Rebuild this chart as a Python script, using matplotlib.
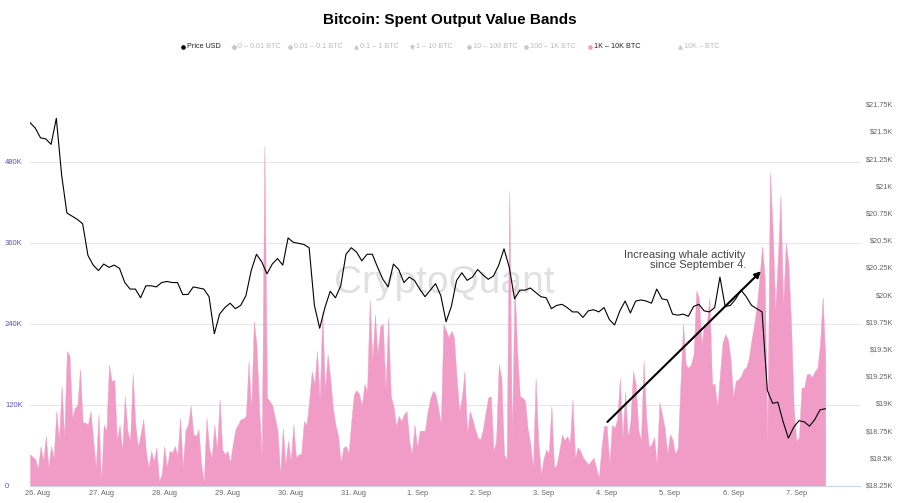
import numpy as np
import pandas as pd
import matplotlib
matplotlib.use("Agg")
import matplotlib.pyplot as plt
import matplotlib.dates as mdates
from matplotlib import transforms
from matplotlib.lines import Line2D

plt.rcParams['font.family'] = ['Liberation Sans', 'DejaVu Sans']

# hourly spent output value, 1K - 10K BTC band (thousands), 25 Aug 21:00 -> 7 Sep 11:00
spent_times = pd.date_range('2022-08-25 21:00', periods=303, freq='h')
spent_k = [
    47, 43, 40, 25, 59, 37, 74, 27, 59, 42, 111, 67, 148, 72, 200, 193,
    101, 116, 119, 173, 94, 94, 91, 111, 67, 27, 106, 5, 91, 82, 180, 155,
    158, 67, 91, 52, 133, 82, 67, 166, 91, 57, 77, 99, 52, 27, 52, 37,
    57, 7, 17, 59, 27, 52, 50, 59, 45, 101, 27, 82, 91, 119, 77, 74,
    84, 32, 5, 101, 57, 42, 91, 52, 128, 54, 47, 52, 35, 62, 84, 91,
    99, 100, 104, 185, 111, 244, 210, 116, 42, 504, 131, 126, 119, 101, 82, 17,
    86, 32, 67, 37, 91, 42, 47, 47, 96, 91, 126, 170, 151, 200, 126, 259,
    140, 195, 160, 116, 91, 74, 35, 57, 59, 49, 96, 136, 142, 136, 119, 151,
    141, 275, 185, 254, 195, 237, 240, 141, 249, 133, 119, 89, 104, 96, 106, 111,
    67, 47, 91, 57, 82, 82, 82, 111, 130, 141, 136, 116, 91, 240, 230, 220,
    230, 220, 160, 111, 131, 170, 77, 111, 99, 84, 72, 69, 84, 109, 131, 133,
    52, 67, 180, 160, 47, 40, 437, 67, 299, 200, 133, 131, 126, 84, 62, 25,
    160, 67, 17, 40, 54, 49, 118, 27, 32, 52, 76, 68, 74, 64, 128, 42,
    57, 52, 42, 37, 32, 37, 42, 27, 12, 57, 89, 89, 32, 91, 86, 99,
    160, 70, 140, 72, 96, 170, 151, 84, 67, 185, 101, 57, 62, 72, 32, 124,
    106, 86, 47, 77, 69, 47, 57, 151, 240, 180, 175, 180, 195, 289, 279, 210,
    240, 240, 279, 151, 151, 116, 166, 212, 225, 217, 190, 131, 156, 158, 163, 173,
    176, 190, 217, 240, 267, 309, 355, 309, 60, 464, 383, 260, 338, 430, 264, 360,
    330, 240, 116, 67, 72, 146, 146, 166, 166, 161, 170, 175, 210, 280, 190,
]

# 2-hourly BTC price (thousand USD)
price_times = pd.date_range('2022-08-25 21:00', periods=152, freq='2h')
price_k = [
    21.59, 21.54, 21.45, 21.44, 21.39, 21.63, 21.11, 20.76, 20.73, 20.70, 20.66, 20.37,
    20.28, 20.23, 20.29, 20.26, 20.28, 20.25, 20.12, 20.06, 20.06, 19.98, 20.09, 20.09,
    20.08, 20.12, 20.13, 20.12, 20.12, 20.01, 20.01, 20.08, 20.07, 20.06, 19.99, 19.65,
    19.83, 19.89, 19.93, 19.88, 19.91, 20.00, 20.23, 20.38, 20.31, 20.20, 20.29, 20.34,
    20.28, 20.53, 20.49, 20.48, 20.47, 20.44, 19.91, 19.70, 19.89, 20.04, 19.98, 20.09,
    20.38, 20.44, 20.40, 20.32, 20.38, 20.38, 20.26, 20.15, 20.08, 20.29, 20.24, 20.12,
    20.17, 20.14, 20.06, 19.99, 20.05, 20.11, 20.00, 19.76, 19.90, 20.14, 20.21, 20.14,
    20.17, 20.24, 20.19, 20.15, 20.18, 20.28, 20.43, 20.26, 19.97, 20.05, 20.05, 20.07,
    20.03, 19.99, 19.98, 19.88, 19.91, 19.92, 19.89, 19.85, 19.85, 19.80, 19.86, 19.87,
    19.85, 19.89, 19.78, 19.73, 19.86, 19.95, 19.84, 19.95, 19.96, 19.95, 19.93, 20.06,
    19.97, 19.96, 19.83, 19.82, 19.83, 19.81, 19.90, 19.92, 19.86, 19.85, 19.89, 20.17,
    19.90, 19.91, 19.97, 20.05, 19.99, 19.91, 19.88, 19.85, 19.13, 19.01, 19.02, 18.84,
    18.69, 18.79, 18.85, 18.84, 18.80, 18.86, 18.95, 18.96,
]

left_ticks = [0, 120, 240, 360, 480]
right_ticks = list(np.arange(18.25, 21.76, 0.25))
day_ticks = pd.date_range('2022-08-26', '2022-09-07', freq='D')

legend_labels = ['Price USD', '0 – 0.01 BTC', '0.01 – 0.1 BTC', '0.1 – 1 BTC', '1 – 10 BTC',
                 '10 – 100 BTC', '100 – 1K BTC', '1K – 10K BTC', '10K – BTC']
legend_markers = ['o', 'D', 'o', '^', 'v', 'o', 'o', 'o', '^']
legend_active = [True, False, False, False, False, False, False, True, False]
legend_x = [183, 234, 290, 355.5, 412, 469, 526, 590, 680]

PINK = '#f09cc6'
W, H = 900, 503

def tnum(s):
    return mdates.date2num(pd.Timestamp(s))

fig = plt.figure(figsize=(W / 100, H / 100), dpi=100)
ax = fig.add_axes([30 / W, 1 - 486 / H, 829.5 / W, 396 / H])

ax.fill_between(spent_times, 0, spent_k, color=PINK, lw=0.3, ec=PINK, zorder=2)
ax.set_ylim(0, 396 / 81 * 120)
ax.set_xlim(spent_times[0], pd.Timestamp('2022-09-08'))
ax.set_yticks(left_ticks)
ax.grid(axis='y', color='#e6e6e6', lw=0.8)
ax.set_axisbelow(True)
ax.tick_params(axis='y', length=0, labelleft=False)
ax.set_xticks(day_ticks)
ax.set_xticklabels([f'{d.day}. {d:%b}' for d in day_ticks])
ax.tick_params(axis='x', length=0, pad=3, labelsize=5.3, labelcolor='#666666')
for s in ['top', 'left', 'right']:
    ax.spines[s].set_visible(False)
ax.spines['bottom'].set_color('#ccd6eb')
ax.spines['bottom'].set_linewidth(0.8)

# watermark
ax.text(0.499, 0.487, 'CryptoQuant', transform=ax.transAxes, ha='center', va='baseline',
        fontsize=28, color='#e0e0e0', zorder=1)

ax2 = ax.twinx()
ax2.plot(price_times, price_k, color='black', lw=0.8)
ax2.set_ylim(18.25, 18.25 + 396 / 27.2 * 0.25)
ax2.set_yticks(right_ticks)
ax2.tick_params(axis='y', length=0, labelright=False)
for s in ax2.spines.values():
    s.set_visible(False)

# tick labels outside the plot
tl = transforms.blended_transform_factory(fig.transFigure, ax.transData)
for v in left_ticks:
    fig.text(5 / W, v, f'{v}K' if v else '0', transform=tl, ha='left', va='center',
             fontsize=5.5, color='#5b4fc9')
tr = transforms.blended_transform_factory(fig.transFigure, ax2.transData)
for v in right_ticks:
    fig.text(893 / W, v, f'${round(v, 2):g}K', transform=tr, ha='right', va='center',
             fontsize=5.3, color='#666666')

# annotation
ax2.annotate('', xy=(tnum('2022-09-06 11:20'), 321), xycoords=ax.transData,
             xytext=(tnum('2022-09-03 23:30'), 92), textcoords=ax.transData,
             arrowprops=dict(arrowstyle='-|>', color='black', lw=1.5, mutation_scale=9))
ax2.text(tnum('2022-09-06 04:50'), 335, 'Increasing whale activity\nsince September 4.',
         transform=ax.transData, ha='right', va='center', multialignment='right',
         fontsize=8, color='#444444', linespacing=1.0)

fig.text(0.5, 1 - 20 / H, 'Bitcoin: Spent Output Value Bands', ha='center', va='center',
         fontsize=11, fontweight='bold')

# legend
ly = 1 - 47 / H
for lab, mk, act, x in zip(legend_labels, legend_markers, legend_active, legend_x):
    tcol = '#222222' if act else '#bbbbbb'
    mcol = 'black' if lab == 'Price USD' else (PINK if act else '#c8c8c8')
    fig.add_artist(Line2D([x / W], [ly], transform=fig.transFigure, marker=mk,
                          ms=2.3, color=mcol, ls='none'))
    fig.text((x + 4) / W, ly, lab, ha='left', va='center', fontsize=5.2, color=tcol)

fig.savefig('out.png', dpi=100)
